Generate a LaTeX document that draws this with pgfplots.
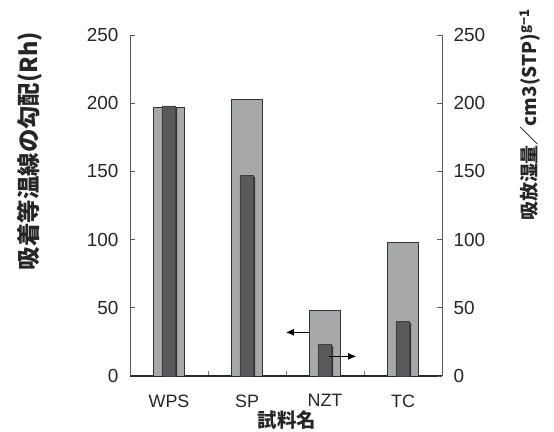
\documentclass[border=0pt]{standalone}
\usepackage{pgfplots}
\pgfplotsset{compat=1.18}
\usepackage{fontspec}
\setmainfont{Liberation Sans}
\newfontfamily\jp{Noto Sans CJK JP}
\usetikzlibrary{arrows.meta}
\definecolor{lightbar}{HTML}{A7A8AA}
\definecolor{darkbar}{HTML}{58595B}
\begin{document}
\begin{tikzpicture}
\path[use as bounding box] (-130bp,-56bp) rectangle (424bp,376bp);
\pgfplotsset{
  common/.style={
    scale only axis, width=312bp, height=341bp,
    xmin=0, xmax=4, ymin=0, ymax=250,
    ytick={0,50,...,250},
    tick align=inside,
    major tick length=5bp,
    /pgf/number format/assume math mode=true,
    tick label style={font=\fontsize{19}{22}\selectfont, text=black!85},
    y axis line style={-, draw=black!65, line width=0.8pt},
    ytick style={draw=black!65, line width=0.8pt},
  }
}
\begin{axis}[common,
  axis x line*=bottom, axis y line*=left,
  x axis line style={-, draw=black!85, line width=1.6pt},
  xtick={0.5,1.5,2.5,3.5}, xticklabels={WPS,SP,NZT,TC},
  minor xtick={1,2,3},
  minor tick length=5bp,
  major x tick style={draw=none},
  minor x tick style={draw=black!55, line width=0.8pt},
  xticklabel style={yshift=-15bp, font=\fontsize{18}{20}\selectfont},
  yticklabel style={xshift=-8bp},
]
\addplot[ybar, bar width=0.4, bar shift=0, fill=lightbar, draw=black!80, line width=0.7pt]
  coordinates {(0.5,197) (1.5,203) (2.5,48) (3.5,98)};
\addplot[-{Latex[length=8bp,width=7bp]}, black, line width=0.9pt]
  coordinates {(2.295,32) (2.0,32)};
\end{axis}
\begin{axis}[common,
  axis x line=none, axis y line*=right,
  yticklabel style={xshift=8bp},
]
\addplot[ybar, bar width=0.18, bar shift=0.014, fill=black!80, draw=none]
  coordinates {(0.5,196.5) (1.5,146) (2.5,22) (3.5,39)};
\addplot[ybar, bar width=0.17, bar shift=-0.005, fill=darkbar, draw=black!75, line width=0.6pt]
  coordinates {(0.5,198) (1.5,147) (2.5,23) (3.5,40)};
\addplot[-{Latex[length=8bp,width=7bp]}, black, line width=0.9pt]
  coordinates {(2.554,14.4) (2.9,14.4)};
\end{axis}
\node[rotate=90, font=\jp\bfseries\fontsize{23.5}{25}\selectfont, text=black!85] at (-100bp,225bp) {吸着等温線の勾配(Rh)};
\node[rotate=90, font=\jp\bfseries\fontsize{19}{21}\selectfont, text=black!85] at (400bp,261bp) {吸放湿量／cm3(STP)\textsuperscript{g−1}};
\node[font=\jp\bfseries\fontsize{19.5}{21}\selectfont, text=black!85] at (157bp,-44bp) {試料名};
\end{tikzpicture}
\end{document}
